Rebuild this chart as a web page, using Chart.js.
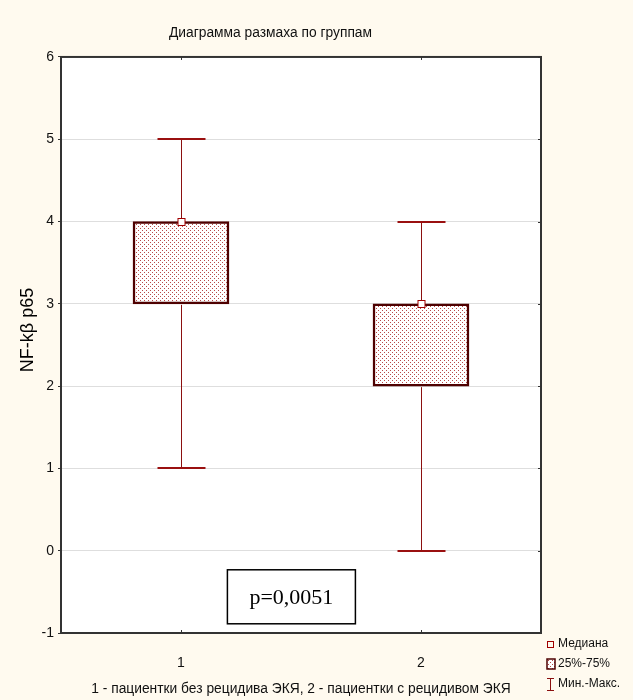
<!DOCTYPE html>
<html>
<head>
<meta charset="utf-8">
<script src="https://cdn.jsdelivr.net/npm/chart.js@4.4.0/dist/chart.umd.min.js"></script>
<style>
  html, body { margin: 0; background: #fffaef; }
  canvas { display: block; }
</style>
</head>
<body>
<canvas id="boxChart" width="633" height="700"></canvas>
<script>
// group positions and box statistics
const groups = [1, 2];
const groupLabels = ['1', '2'];
const minVals = [1, 0];
const q1Vals = [3, 2];
const medianVals = [4, 3];
const q3Vals = [4, 3];
const maxVals = [5, 4];
const yTicks = [-1, 0, 1, 2, 3, 4, 5, 6];
const pLabel = 'p=0,0051';
const pPos = { x: 1.46, y: -0.56 };

const sans = "'Liberation Sans', Arial, sans-serif";
const darkRed = '#4e0000';
const lineRed = '#8b1010';

// dotted fill for the boxes
function dotPattern() {
  const c = document.createElement('canvas');
  c.width = 4; c.height = 4;
  const g = c.getContext('2d');
  g.fillStyle = '#ffffff';
  g.fillRect(0, 0, 4, 4);
  g.fillStyle = '#b84848';
  g.fillRect(0, 0, 1, 1);
  g.fillRect(2, 2, 1, 1);
  return g.createPattern(c, 'repeat');
}
const boxFill = dotPattern();

const background = {
  id: 'background',
  beforeDraw(chart) {
    const { ctx, chartArea: a } = chart;
    ctx.save();
    ctx.fillStyle = '#fffaef';
    ctx.fillRect(0, 0, chart.width, chart.height);
    ctx.fillStyle = '#ffffff';
    ctx.fillRect(a.left, a.top, a.right - a.left, a.bottom - a.top);
    ctx.restore();
  }
};

const whiskers = {
  id: 'whiskers',
  afterDatasetsDraw(chart) {
    const { ctx, scales: { x, y } } = chart;
    ctx.save();
    groups.forEach((g, i) => {
      const cx = Math.round(x.getPixelForValue(g)) + 0.5;
      const capHalf = (x.getPixelForValue(g + 0.1) - x.getPixelForValue(g));
      // vertical whiskers
      ctx.strokeStyle = lineRed;
      ctx.lineWidth = 1;
      ctx.beginPath();
      ctx.moveTo(cx, y.getPixelForValue(q3Vals[i]) - 1);
      ctx.lineTo(cx, y.getPixelForValue(maxVals[i]));
      ctx.moveTo(cx, y.getPixelForValue(q1Vals[i]) + 1);
      ctx.lineTo(cx, y.getPixelForValue(minVals[i]));
      ctx.stroke();
      // caps
      ctx.lineWidth = 2;
      ctx.strokeStyle = '#9a1010';
      [minVals[i], maxVals[i]].forEach(v => {
        const py = Math.round(y.getPixelForValue(v));
        ctx.beginPath();
        ctx.moveTo(cx - capHalf, py);
        ctx.lineTo(cx + capHalf, py);
        ctx.stroke();
      });
      // median marker
      const my = Math.round(y.getPixelForValue(medianVals[i]));
      ctx.lineWidth = 1;
      ctx.strokeStyle = '#a00000';
      ctx.fillStyle = '#ffffff';
      ctx.fillRect(cx - 3.5, my - 3.5, 7, 7);
      ctx.strokeRect(cx - 3.5, my - 3.5, 7, 7);
    });
    ctx.restore();
  }
};

const frame = {
  id: 'frame',
  afterDraw(chart) {
    const { ctx, chartArea: a, scales: { x, y } } = chart;
    ctx.save();
    ctx.strokeStyle = '#333333';
    ctx.lineWidth = 2;
    ctx.strokeRect(a.left, a.top, a.right - a.left, a.bottom - a.top);
    // small inner ticks on the right and top/bottom edges
    ctx.lineWidth = 1;
    ctx.beginPath();
    yTicks.forEach(v => {
      const py = Math.round(y.getPixelForValue(v)) + 0.5;
      ctx.moveTo(a.right - 3, py);
      ctx.lineTo(a.right, py);
    });
    groups.forEach(g => {
      const px = Math.round(x.getPixelForValue(g)) + 0.5;
      ctx.moveTo(px, a.top);
      ctx.lineTo(px, a.top + 3);
      ctx.moveTo(px, a.bottom);
      ctx.lineTo(px, a.bottom - 3);
    });
    ctx.stroke();

    // y axis title
    ctx.save();
    ctx.translate(28, 330);
    ctx.rotate(-Math.PI / 2);
    ctx.fillStyle = '#000000';
    ctx.font = '18px ' + sans;
    ctx.textAlign = 'center';
    ctx.textBaseline = 'middle';
    ctx.fillText('NF-kβ p65', 0, 0);
    ctx.restore();

    // p-value box
    const px = x.getPixelForValue(pPos.x);
    const py = y.getPixelForValue(pPos.y);
    ctx.fillStyle = '#ffffff';
    ctx.fillRect(px - 64, py - 27, 128, 54);
    ctx.strokeStyle = '#000000';
    ctx.lineWidth = 1.5;
    ctx.strokeRect(px - 64, py - 27, 128, 54);
    ctx.fillStyle = '#000000';
    ctx.font = "22px 'Liberation Serif', 'Times New Roman', serif";
    ctx.textAlign = 'center';
    ctx.textBaseline = 'middle';
    ctx.fillText(pLabel, px, py + 1);

    // legend
    const lx = 547;
    ctx.textAlign = 'left';
    ctx.font = '12px ' + sans;
    ctx.fillStyle = '#111111';
    ctx.fillText('Медиана', 558, 644);
    ctx.fillText('25%-75%', 558, 664);
    ctx.fillText('Мин.-Макс.', 558, 684);
    ctx.strokeStyle = '#a00000';
    ctx.lineWidth = 1;
    ctx.strokeRect(lx + 0.5, 641.5, 6, 6);
    ctx.fillStyle = boxFill;
    ctx.fillRect(lx, 659, 8, 10);
    ctx.strokeStyle = darkRed;
    ctx.lineWidth = 1.5;
    ctx.strokeRect(lx, 659, 8, 10);
    ctx.strokeStyle = lineRed;
    ctx.lineWidth = 1;
    ctx.beginPath();
    ctx.moveTo(lx, 678.5); ctx.lineTo(lx + 7, 678.5);
    ctx.moveTo(lx + 3.5, 678.5); ctx.lineTo(lx + 3.5, 690.5);
    ctx.moveTo(lx, 690.5); ctx.lineTo(lx + 7, 690.5);
    ctx.stroke();
    ctx.restore();
  }
};

new Chart(document.getElementById('boxChart'), {
  type: 'bar',
  data: {
    datasets: [{
      label: '25%-75%',
      data: groups.map((g, i) => ({ x: g, y: [q1Vals[i], q3Vals[i]] })),
      backgroundColor: boxFill,
      borderColor: darkRed,
      borderWidth: 2.5,
      borderSkipped: false,
      barThickness: 96
    }]
  },
  options: {
    responsive: false,
    animation: false,
    layout: { padding: { right: 92 } },
    plugins: {
      legend: { display: false },
      tooltip: { enabled: false },
      title: {
        display: true,
        text: 'Диаграмма размаха по группам',
        color: '#111111',
        font: { family: sans, size: 13.8, weight: 'normal' },
        padding: { top: 25, bottom: 15.4 }
      }
    },
    scales: {
      x: {
        type: 'linear',
        offset: false,
        min: 0.5,
        max: 2.5,
        afterBuildTicks: axis => { axis.ticks = groups.map(v => ({ value: v })); },
        afterFit: axis => { axis.height = 67; },
        grid: { display: false },
        border: { display: false },
        ticks: {
          padding: 14,
          color: '#111111',
          font: { family: sans, size: 14 },
          callback: v => groupLabels[groups.indexOf(v)]
        },
        title: {
          display: true,
          text: '1 - пациентки без рецидива ЭКЯ, 2 - пациентки с рецидивом ЭКЯ',
          color: '#111111',
          font: { family: sans, size: 13.8 },
          padding: { top: 0, bottom: 3 }
        }
      },
      y: {
        min: -1,
        max: 6,
        afterBuildTicks: axis => { axis.ticks = yTicks.map(v => ({ value: v })); },
        afterFit: axis => { axis.width = 61; },
        border: { display: false },
        grid: {
          color: c => (c.tick && (c.tick.value === -1 || c.tick.value === 6)) ? 'rgba(0,0,0,0)' : '#dedede',
          tickColor: '#333333',
          tickLength: 3,
          lineWidth: 1
        },
        ticks: {
          padding: 4,
          color: '#111111',
          font: { family: sans, size: 14 }
        }
      }
    }
  },
  plugins: [background, whiskers, frame]
});
</script>
</body>
</html>
